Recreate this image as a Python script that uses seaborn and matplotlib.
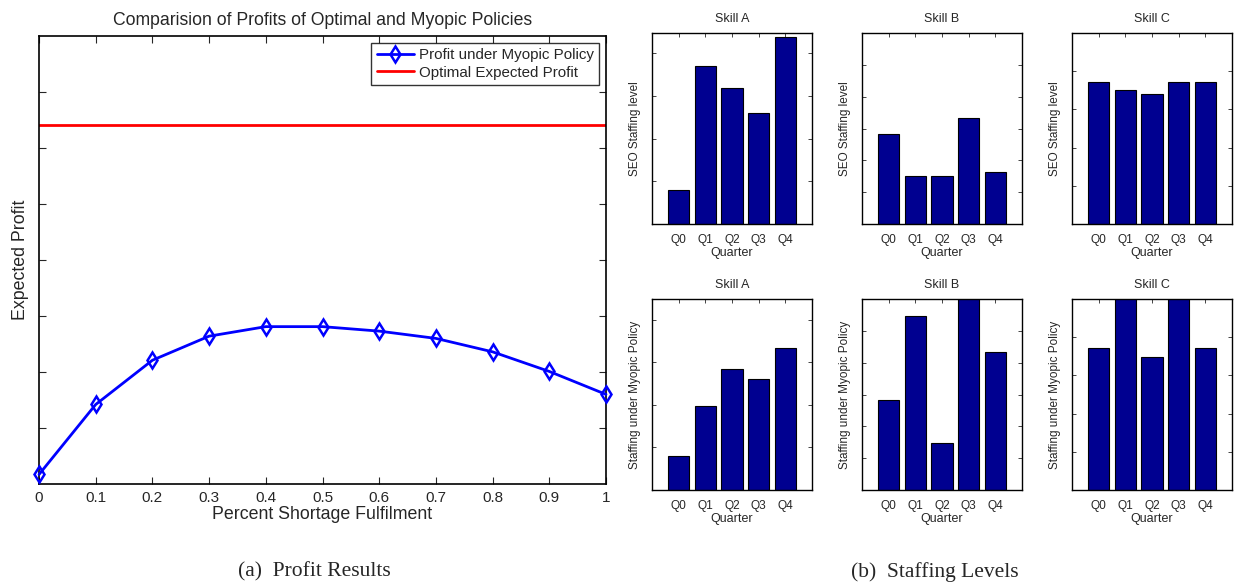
import numpy as np
import pandas as pd
import matplotlib
matplotlib.use('Agg')
import matplotlib.pyplot as plt
import seaborn as sns

# profit curve (arbitrary units, axis has no labels)
shortage_fulfilment = [0.0, 0.1, 0.2, 0.3, 0.4, 0.5, 0.6, 0.7, 0.8, 0.9, 1.0]
myopic_profit = [0.17, 1.42, 2.21, 2.64, 2.81, 2.81, 2.73, 2.60, 2.36, 2.01, 1.60]
optimal_profit = 6.41

quarters = ['Q0', 'Q1', 'Q2', 'Q3', 'Q4']
skills = ['Skill A', 'Skill B', 'Skill C']

# SEO staffing levels per skill
seo_staffing = {
    'Skill A': [0.80, 3.69, 3.19, 2.59, 4.375],
    'Skill B': [2.82, 1.51, 1.51, 3.33, 1.62],
    'Skill C': [3.72, 3.51, 3.41, 3.72, 3.72],
}
# staffing under myopic policy
myopic_staffing = {
    'Skill A': [0.80, 1.97, 2.85, 2.60, 3.33],
    'Skill B': [2.82, 5.46, 1.48, 6.40, 4.32],
    'Skill C': [3.71, 5.40, 3.48, 5.40, 3.71],
}
seo_ylim = [4.47, 6.0, 5.0]
myopic_ylim = [4.49, 6.0, 5.0]

sns.set_style('white')
plt.rcParams['font.family'] = ['Liberation Sans', 'DejaVu Sans']

W, H = 1235, 586
fig = plt.figure(figsize=(W / 100, H / 100), dpi=100)

def px_axes(x0, y0, x1, y1):
    return fig.add_axes([x0 / W, 1 - y1 / H, (x1 - x0) / W, (y1 - y0) / H])

# --- (a) profit results ---
ax = px_axes(39, 36, 606, 484)
df = pd.DataFrame({'x': shortage_fulfilment, 'profit': myopic_profit})
sns.lineplot(data=df, x='x', y='profit', ax=ax, color='blue', linewidth=2,
             marker='d', markersize=8, markerfacecolor='none',
             markeredgecolor='blue', markeredgewidth=1.8,
             label='Profit under Myopic Policy', clip_on=False, zorder=3)
ax.axhline(optimal_profit, color='red', linewidth=2, label='Optimal Expected Profit')
ax.set_xlim(0, 1)
ax.set_ylim(0, 8)
ax.set_xticks(shortage_fulfilment)
ax.set_xticklabels(['0', '0.1', '0.2', '0.3', '0.4', '0.5', '0.6', '0.7', '0.8', '0.9', '1'])
ax.set_yticks(range(1, 8))
ax.set_yticklabels([])
ax.tick_params(direction='in', bottom=True, left=True, top=True, right=True,
               length=5, width=0.8, labelsize=11, pad=5)
ax.set_xlabel('Percent Shortage Fulfilment', fontsize=12.8, labelpad=1)
ax.set_ylabel('Expected Profit', fontsize=12.8, labelpad=2)
ax.set_title('Comparision of Profits of Optimal and Myopic Policies', fontsize=12.7, pad=8)
for s in ax.spines.values():
    s.set_linewidth(1.2)
    s.set_color('black')
leg = ax.legend(loc='upper right', fontsize=10.9, frameon=True, fancybox=False,
                borderaxespad=0.45, handlelength=2.5, borderpad=0.35,
                labelspacing=0.24, handletextpad=0.3)
leg.get_frame().set_edgecolor('black')
leg.get_frame().set_linewidth(1)

# --- (b) staffing levels ---
col_x = [(652, 812), (862, 1022), (1072, 1232)]
row_y = [(33, 224), (299, 490)]
rows = [(seo_staffing, seo_ylim, 'SEO Staffing level'),
        (myopic_staffing, myopic_ylim, 'Staffing under Myopic Policy')]

for r, (data, ylims, ylabel) in enumerate(rows):
    for c, skill in enumerate(skills):
        x0, x1 = col_x[c]
        y0, y1 = row_y[r]
        bax = px_axes(x0, y0, x1, y1)
        bdf = pd.DataFrame({'quarter': quarters, 'level': data[skill]})
        sns.barplot(data=bdf, x='quarter', y='level', ax=bax, color='#000090',
                    saturation=1, width=0.8, edgecolor='black', linewidth=0.8)
        bax.set_xlim(-1, 5)
        bax.set_ylim(0, ylims[c])
        bax.set_yticks(range(1, int(ylims[c] - 0.01) + 1))
        bax.set_yticklabels([])
        bax.tick_params(direction='in', bottom=True, left=True, top=True, right=True,
                        length=3, width=0.6, labelsize=8.6, pad=7)
        bax.set_title(skill, fontsize=9, pad=8)
        bax.set_xlabel('Quarter', fontsize=9, labelpad=1)
        bax.set_ylabel(ylabel, fontsize=8.5, labelpad=1)
        for s in bax.spines.values():
            s.set_linewidth(1)
            s.set_color('black')

fig.text(314 / W, 1 - 572 / H, '(a)  Profit Results', ha='center', va='center',
         fontsize=15.5, family=['Liberation Serif', 'DejaVu Serif'])
fig.text(935 / W, 1 - 572 / H, '(b)  Staffing Levels', ha='center', va='center',
         fontsize=15.5, family=['Liberation Serif', 'DejaVu Serif'])

fig.savefig('out.png', dpi=100)
